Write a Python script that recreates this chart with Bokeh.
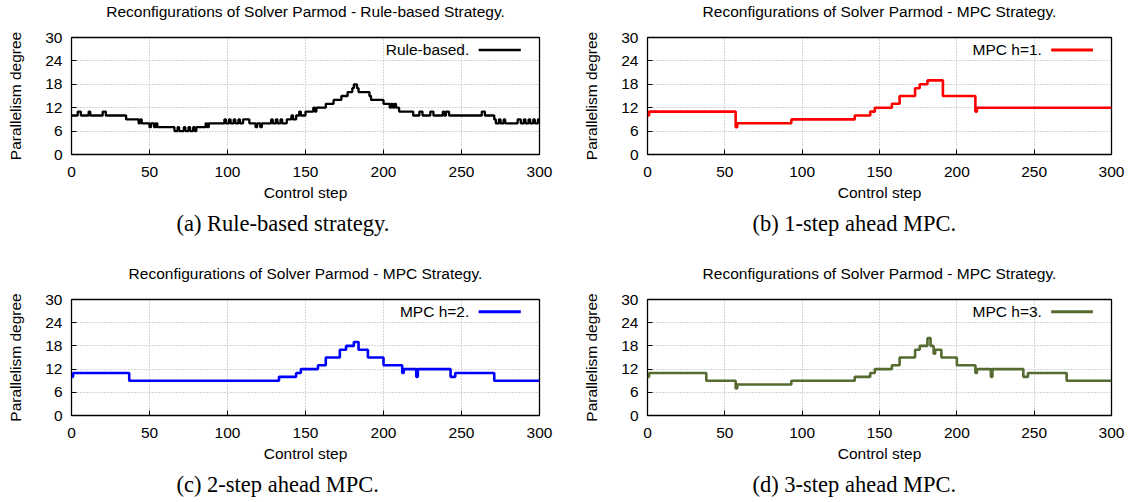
from bokeh.plotting import figure
from bokeh.models import Range1d, FixedTicker, Title, Label, Arrow
from bokeh.layouts import column, row
from bokeh.embed import file_html
from bokeh.resources import INLINE

# ---------------- data (step change points: control step, parallelism degree) ----------------
rule_x = [0, 4, 6, 11, 12, 20, 22, 35,
          43, 44, 45, 50, 51, 53, 54, 55,
          66, 68, 69, 72, 73, 75, 76, 78, 79, 80,
          86, 87, 88, 98, 99, 101, 102, 104, 105, 107, 108, 110,
          114, 118, 119, 121, 122, 128, 129, 131, 132, 134, 135, 138,
          141, 142, 144, 146, 147, 150, 155, 156, 157, 163, 168, 173,
          177, 180, 181, 183, 184, 191, 192, 200, 204, 205, 206, 207, 208, 210, 219,
          223, 225, 230, 232, 238, 239, 240, 242, 263, 265,
          271, 272, 274, 275, 277, 278, 286, 288, 290, 291, 293, 294, 296, 297, 299, 300]
rule_y = [10, 11, 10, 11, 10, 11, 10, 9,
          8, 9, 8, 7, 8, 7, 8, 7,
          6, 7, 6, 7, 6, 7, 6, 7, 6, 7,
          8, 7, 8, 9, 8, 9, 8, 9, 8, 9, 8, 9,
          8, 7, 8, 7, 8, 9, 8, 9, 8, 9, 8, 9,
          10, 9, 10, 11, 10, 11, 12, 11, 12, 13, 14, 15,
          16, 17, 18, 17, 16, 15, 14, 13, 12, 13, 12, 13, 12, 11, 10,
          11, 10, 11, 10, 11, 10, 11, 10, 11, 10,
          9, 8, 9, 8, 9, 8, 9, 8, 9, 8, 9, 8, 9, 8, 9, 9]

mpc1_x = [0, 1, 57, 58, 93, 134, 144, 147, 158, 163, 173, 176, 181, 191, 212, 213, 300]
mpc1_y = [10, 11, 7, 8, 9, 10, 11, 12, 13, 15, 17, 18, 19, 15, 11, 12, 12]

mpc2_x = [0, 1, 37, 133, 144, 147, 158, 163, 172, 176, 181, 184, 190, 200,
          212, 213, 221, 222, 243, 246, 271, 300]
mpc2_y = [10, 11, 9, 10, 11, 12, 13, 15, 17, 18, 19, 17, 15, 13,
          11, 12, 10, 12, 10, 11, 9, 9]

mpc3_x = [0, 1, 38, 57, 58, 93, 134, 144, 147, 158, 163, 173, 176, 181, 183, 185, 186,
          190, 200, 212, 213, 222, 223, 243, 246, 271, 300]
mpc3_y = [10, 11, 9, 7, 8, 9, 10, 11, 12, 13, 15, 17, 18, 20, 18, 16, 17,
          15, 13, 11, 12, 10, 12, 10, 11, 9, 9]

titles = ["Reconfigurations of Solver Parmod - Rule-based Strategy.",
          "Reconfigurations of Solver Parmod - MPC Strategy.",
          "Reconfigurations of Solver Parmod - MPC Strategy.",
          "Reconfigurations of Solver Parmod - MPC Strategy."]
legend_labels = ["Rule-based.", "MPC h=1.", "MPC h=2.", "MPC h=3."]
captions = ["(a) Rule-based strategy.", "(b) 1-step ahead MPC.",
            "(c) 2-step ahead MPC.", "(d) 3-step ahead MPC."]
x_label = "Control step"
y_label = "Parallelism degree"
x_ticks = [0, 50, 100, 150, 200, 250, 300]
y_ticks = [0, 6, 12, 18, 24, 30]

# ---------------- styles ----------------
colors = ["#000000", "#ff0000", "#0000ff", "#556b2f"]
widths = [2.3, 2.6, 2.6, 2.6]
SANS = "Liberation Sans"
SERIF = "Liberation Serif"
FS = "15.5px"


def panel(i, xs, ys, width, height, left, right, top, bottom, cap_standoff):
    p = figure(width=width, height=height, output_backend="svg", toolbar_location=None,
               x_range=Range1d(0, 300), y_range=Range1d(0, 30),
               min_border_left=left, min_border_right=right,
               min_border_top=top, min_border_bottom=bottom,
               title=None)

    # gap between frame and title, then the title itself (outermost)
    p.add_layout(Title(text=" ", text_font_size="1px", standoff=15), "above")
    p.add_layout(Title(text=titles[i], align="center", text_font=SANS, text_font_size=FS,
                       text_font_style="normal", text_color="black", standoff=0), "above")

    p.background_fill_color = "white"
    p.border_fill_color = "white"
    p.outline_line_color = "black"
    p.outline_line_width = 1.3

    xt = FixedTicker(ticks=x_ticks)
    yt = FixedTicker(ticks=y_ticks)
    p.xaxis.ticker = xt
    p.yaxis.ticker = yt
    p.xgrid.ticker = xt
    p.ygrid.ticker = yt
    for g in (p.xgrid[0], p.ygrid[0]):
        g.grid_line_color = "#a8a8a8"
        g.grid_line_dash = "1 2"
        g.grid_line_width = 1

    for ax in (p.xaxis[0], p.yaxis[0]):
        ax.axis_line_color = None
        ax.major_tick_in = 5
        ax.major_tick_out = 0
        ax.major_tick_line_color = "black"
        ax.minor_tick_line_color = None
        ax.major_label_text_font = SANS
        ax.major_label_text_font_size = FS
        ax.major_label_text_color = "black"
        ax.axis_label_text_font = SANS
        ax.axis_label_text_font_size = FS
        ax.axis_label_text_font_style = "normal"
        ax.axis_label_text_color = "black"
    p.xaxis.axis_label = x_label
    p.yaxis.axis_label = y_label
    p.xaxis.major_label_standoff = 12
    p.xaxis.axis_label_standoff = 4
    p.yaxis.major_label_standoff = 9
    p.yaxis.axis_label_standoff = 18

    p.step(xs, ys, mode="after", line_color=colors[i], line_width=widths[i])

    # gnuplot-style key: text on the left, line sample on the right
    p.add_layout(Label(x=255, y=26.8, text=legend_labels[i], text_align="right",
                       text_baseline="middle", text_font=SANS, text_font_size=FS,
                       text_color="black"))
    p.add_layout(Arrow(end=None, x_start=261, y_start=26.8, x_end=288, y_end=26.8,
                       line_color=colors[i], line_width=widths[i] + 0.4))

    cap = Title(text=captions[i], align="left", offset=105, text_font=SERIF,
                text_font_size="22.5px", text_font_style="normal", text_color="black",
                standoff=cap_standoff)
    p.add_layout(cap, "below")
    return p


p1 = panel(0, rule_x, rule_y, 580, 262, 71, 41, 37, 108, 11)
p2 = panel(1, mpc1_x, mpc1_y, 547, 262, 63, 16, 37, 108, 11)
p3 = panel(2, mpc2_x, mpc2_y, 580, 239, 71, 41, 37, 85, 10)
p4 = panel(3, mpc3_x, mpc3_y, 547, 239, 63, 16, 37, 85, 10)

layout = column(row(p1, p2), row(p3, p4))
open("out.html", "w").write(file_html(layout, INLINE))
